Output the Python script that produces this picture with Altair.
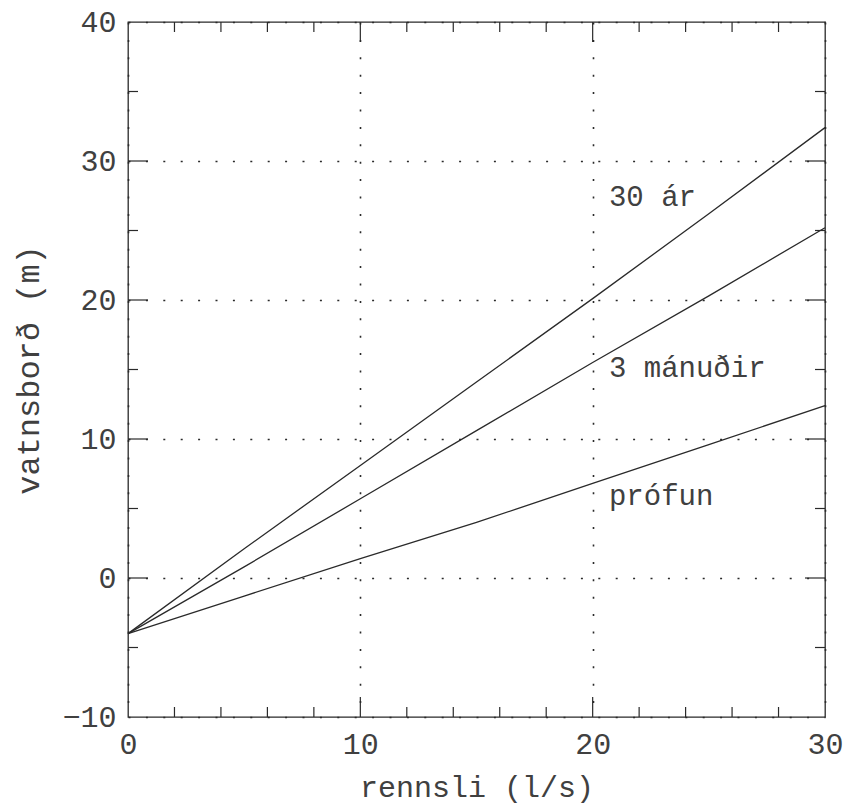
import altair as alt
import pandas as pd

# ---- data ----
flow = [0, 5, 10, 15, 20, 25, 30]
level_30ar = [-4.0, 2.1, 8.1, 14.1, 20.1, 26.2, 32.4]
level_3man = [-4.0, 0.8, 5.7, 10.6, 15.5, 20.3, 25.2]
level_prof = [-4.0, -1.3, 1.4, 4.0, 6.8, 9.6, 12.4]
series_names = ["30 ár", "3 mánuðir", "prófun"]

label_text = ["30 ár", "3 mánuðir", "prófun"]
label_x = [20.7, 20.7, 20.7]
label_y = [27.4, 15.1, 5.9]

x_ticks = [0, 10, 20, 30]
y_ticks = [-10, 0, 10, 20, 30, 40]
x_minor_ticks = [2, 4, 6, 8, 12, 14, 16, 18, 22, 24, 26, 28]
x_major_ticks = [10, 20]
y_minor_ticks = [-5, 5, 15, 25, 35]
y_major_ticks = [0, 10, 20, 30]

W, H = 697, 695
FONT = "Liberation Mono"
INK = "#2a2a2a"
TEXT = "#404040"
XTITLE = "rennsli (l/s)"
YTITLE = "vatnsborð (m)"

rows = []
for name, vals in zip(series_names, [level_30ar, level_3man, level_prof]):
    for f, v in zip(flow, vals):
        rows.append({"flow": f, "level": v, "series": name})
lines_df = pd.DataFrame(rows)
labels_df = pd.DataFrame({"flow": label_x, "level": label_y, "text": label_text})

xscale = alt.Scale(domain=[0, 30], nice=False, zero=False)
yscale = alt.Scale(domain=[-10, 40], nice=False, zero=False)
xaxis = alt.Axis(values=x_ticks, labelPadding=12, titlePadding=13)
yaxis = alt.Axis(values=y_ticks, labelPadding=12, titlePadding=16, titleFontSize=32)


def X():
    return alt.X("flow:Q", scale=xscale, title=XTITLE, axis=xaxis)


def Y():
    return alt.Y("level:Q", scale=yscale, title=YTITLE, axis=yaxis)


lines = alt.Chart(lines_df).mark_line(color=INK, strokeWidth=1.3).encode(
    x=X(), y=Y(), detail="series:N"
)

labels = alt.Chart(labels_df).mark_text(
    align="left", baseline="middle", font=FONT, fontSize=29, color=TEXT
).encode(x=X(), y=Y(), text="text:N")


def xt(vals, y0, y1):
    return alt.Chart(pd.DataFrame({"flow": vals})).mark_rule(color=INK, strokeWidth=1.2).encode(
        x=X(), y=alt.value(y0), y2=alt.value(y1)
    )


def yt(vals, x0, x1):
    return alt.Chart(pd.DataFrame({"level": vals})).mark_rule(color=INK, strokeWidth=1.2).encode(
        y=Y(), x=alt.value(x0), x2=alt.value(x1)
    )


ticks = [
    xt(x_minor_ticks, H, H - 10), xt(x_minor_ticks, 0, 10),
    xt(x_major_ticks, H, H - 20), xt(x_major_ticks, 0, 20),
    yt(y_minor_ticks, 0, 10), yt(y_minor_ticks, W, W - 10),
    yt(y_major_ticks, 0, 20), yt(y_major_ticks, W, W - 20),
]

chart = alt.layer(lines, labels, *ticks).properties(
    width=W, height=H,
    background="white",
    autosize=alt.AutoSizeParams(type="none"),
    padding={"left": 128, "top": 22, "right": 25, "bottom": 93},
).configure_view(
    stroke=INK, strokeWidth=1.3
).configure_axis(
    grid=True, gridDash=[2, 15.4], gridColor=INK, gridWidth=1.6, gridOpacity=1,
    domain=False, ticks=False, tickSize=0,
    labelFont=FONT, labelFontSize=30, labelColor=TEXT, labelFlush=False, labelOverlap=False,
    titleFont=FONT, titleFontSize=30, titleFontWeight="normal", titleColor=TEXT,
)

chart.save("out.html", embed_options={"renderer": "svg", "actions": False})
